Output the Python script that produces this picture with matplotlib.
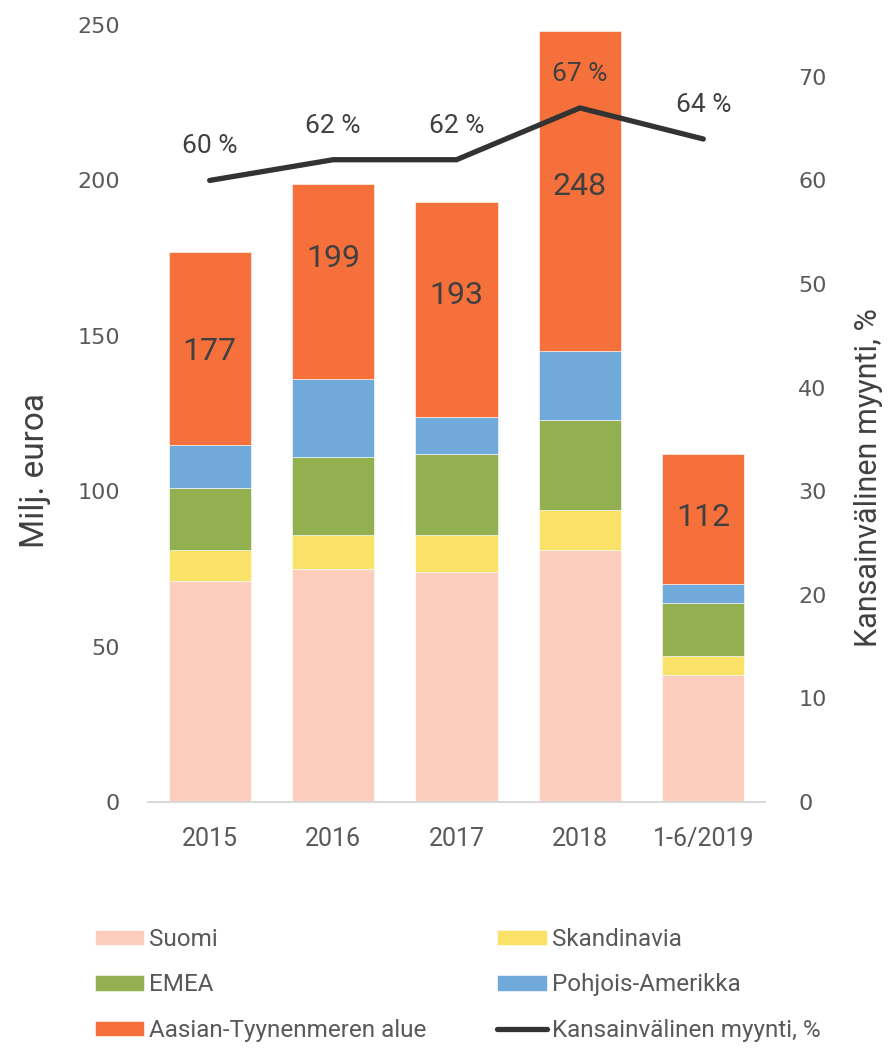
import matplotlib
matplotlib.use("Agg")
import matplotlib.pyplot as plt
import numpy as np

# data
vuodet = ["2015", "2016", "2017", "2018", "1-6/2019"]
suomi = [71, 75, 74, 81, 41]
skandinavia = [10, 11, 12, 13, 6]
emea = [20, 25, 26, 29, 17]
pohjois_amerikka = [14, 25, 12, 22, 6]
aasia = [62, 63, 69, 103, 42]
yhteensa = [177, 199, 193, 248, 112]
kv_myynti = [60, 62, 62, 67, 64]

# label positions inside the orange part (left axis units)
label_y = [145, 175, 163, 198, 91.5]

sarjat = [
    ("Suomi", suomi, "#FDCDBD"),
    ("Skandinavia", skandinavia, "#F9E267"),
    ("EMEA", emea, "#92B04F"),
    ("Pohjois-Amerikka", pohjois_amerikka, "#70AADB"),
    ("Aasian-Tyynenmeren alue", aasia, "#F6703B"),
]

plt.rcParams['font.family'] = ['Roboto', 'DejaVu Sans']

fig = plt.figure(figsize=(8.94, 10.52), dpi=100)
ax = fig.add_axes([0.1655, 0.2376, 0.6902, 0.7386])
ax2 = ax.twinx()

x = np.arange(len(vuodet))
pohja = np.zeros(len(vuodet))
palkit = {}
for nimi, arvot, vari in sarjat:
    palkit[nimi] = ax.bar(x, arvot, 0.667, bottom=pohja, color=vari,
                          edgecolor="white", linewidth=0.4, label=nimi)
    pohja = pohja + np.array(arvot)

for i, s in enumerate(yhteensa):
    ax.text(x[i], label_y[i], str(s), ha="center", va="center",
            fontsize=23, color="#404040")

viiva, = ax2.plot(x, kv_myynti, color="#333333", linewidth=3.8,
                  solid_capstyle="round", solid_joinstyle="miter",
                  label="Kansainvälinen myynti, %")
for i, p in enumerate(kv_myynti):
    ax2.annotate(f"{p} %", (x[i], p), xytext=(0, 24.5), textcoords="offset points",
                 ha="center", va="center", fontsize=19, color="#404040")

ax.set_xlim(-0.5, len(vuodet) - 0.5)
ax.set_ylim(0, 250)
ax2.set_ylim(0, 75)
ax.set_yticks(range(0, 251, 50))
ax2.set_yticks(range(0, 71, 10))
ax.set_xticks(x)
ax.set_xticklabels(vuodet, fontsize=18, color="#595959")

for lab in ax.get_yticklabels() + ax2.get_yticklabels():
    lab.set_fontfamily("DejaVu Sans")
    lab.set_fontsize(16)
    lab.set_color("#595959")

ax.tick_params(axis="y", length=0, pad=20)
ax2.tick_params(axis="y", length=0, pad=24)
ax.tick_params(axis="x", length=0, pad=18)

for a in (ax, ax2):
    for side in ("top", "left", "right"):
        a.spines[side].set_visible(False)
    a.spines["bottom"].set_color("#D9D9D9")
    a.spines["bottom"].set_linewidth(1.3)

ax.set_ylabel("Milj. euroa", fontsize=24, color="#404040", va="center")
ax.yaxis.set_label_coords(-0.183, 0.427)
ax2.set_ylabel("Kansainvälinen myynti, %", fontsize=22, color="#404040",
               rotation=90, va="center")
ax2.yaxis.set_label_coords(1.168, 0.417)

kahvat = [palkit["Suomi"], palkit["EMEA"], palkit["Aasian-Tyynenmeren alue"],
          palkit["Skandinavia"], palkit["Pohjois-Amerikka"], viiva]
nimet = ["Suomi", "EMEA", "Aasian-Tyynenmeren alue",
         "Skandinavia", "Pohjois-Amerikka", "Kansainvälinen myynti, %"]
leg = fig.legend(kahvat, nimet, ncol=2, loc="upper left",
                 bbox_to_anchor=(0.095, 0.127), frameon=False,
                 fontsize=17.5, handlelength=2.05, handleheight=0.6,
                 handletextpad=0.2, columnspacing=2.9, labelspacing=0.92,
                 borderaxespad=0)
for t in leg.get_texts():
    t.set_color("#595959")

fig.savefig("out.png", dpi=100)
